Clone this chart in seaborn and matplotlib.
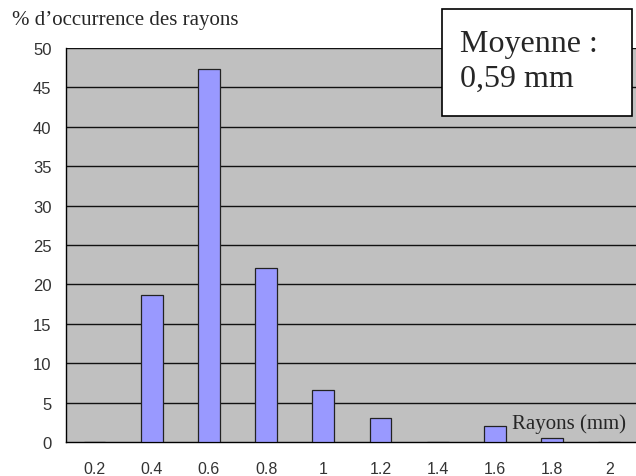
import matplotlib
matplotlib.use("Agg")
import matplotlib.pyplot as plt
import seaborn as sns
import pandas as pd

# Radius classes (mm) and percentage of occurrence
rayons = ["0.2", "0.4", "0.6", "0.8", "1", "1.2", "1.4", "1.6", "1.8", "2"]
occurrence = [0, 18.6, 47.3, 22.1, 6.6, 3.0, 0, 2.0, 0.5, 0]
y_ticks = [0, 5, 10, 15, 20, 25, 30, 35, 40, 45, 50]

df = pd.DataFrame({"rayon": rayons, "pct": occurrence})

sns.set_style("white")
plt.rcParams["font.family"] = ["Liberation Sans", "DejaVu Sans"]

fig = plt.figure(figsize=(6.36, 4.77), dpi=100)
ax = fig.add_axes([66 / 636, 1 - 443 / 477, 1 - 66 / 636 + 0.003, (443 - 49) / 477])
ax.set_facecolor("#C0C0C0")

sns.barplot(data=df, x="rayon", y="pct", order=rayons, color="#9999FF",
            saturation=1, width=0.38, edgecolor="#222222", linewidth=0.9,
            ax=ax, zorder=3)

ax.set_ylim(0, 50)
ax.set_xlim(-0.5, len(rayons) - 0.5)
ax.set_yticks(y_ticks)
ax.set_yticklabels([str(v) for v in y_ticks])
for v in y_ticks[1:]:
    ax.axhline(v, color="#111111", lw=1.0, zorder=1)

# category labels centred, tick marks between categories
ax.set_xticks([i - 0.5 for i in range(len(rayons) + 1)])
ax.set_xticklabels([])
ax.set_xticks(range(len(rayons)), minor=True)
ax.set_xticklabels(rayons, minor=True)
ax.tick_params(axis="x", which="minor", length=0, pad=13.5,
               labelsize=11.5, labelcolor="#333333")
ax.tick_params(axis="x", which="major", length=4, width=1, color="black", direction="out")
ax.tick_params(axis="y", which="major", length=4.5, width=1, color="black", direction="out",
               pad=6, labelsize=12, labelcolor="#333333")

ax.set_xlabel("")
ax.set_ylabel("")
for s in ["top", "right"]:
    ax.spines[s].set_visible(False)
for s in ["left", "bottom"]:
    ax.spines[s].set_color("black")
    ax.spines[s].set_linewidth(1.0)

serif = ["Liberation Serif", "DejaVu Serif"]
fig.text(12 / 636, 1 - 20 / 477, "% d\u2019occurrence des rayons", family=serif,
         fontsize=15, va="center", ha="left")
ax.text(8.3, 2.4, "Rayons (mm)", family=serif, fontsize=15, va="center", ha="center", zorder=4)

box = plt.Rectangle((442 / 636, 1 - 117 / 477), (632 - 442) / 636, (117 - 10) / 477,
                    transform=fig.transFigure, fc="white", ec="black", lw=1.2, zorder=5)
fig.add_artist(box)
t = fig.text(460 / 636, 1 - 62 / 477, "Moyenne :\n0,59 mm", family=serif, fontsize=23,
             va="center", ha="left", linespacing=1.3)
t.set_zorder(6)

fig.savefig("out.png", dpi=100)
